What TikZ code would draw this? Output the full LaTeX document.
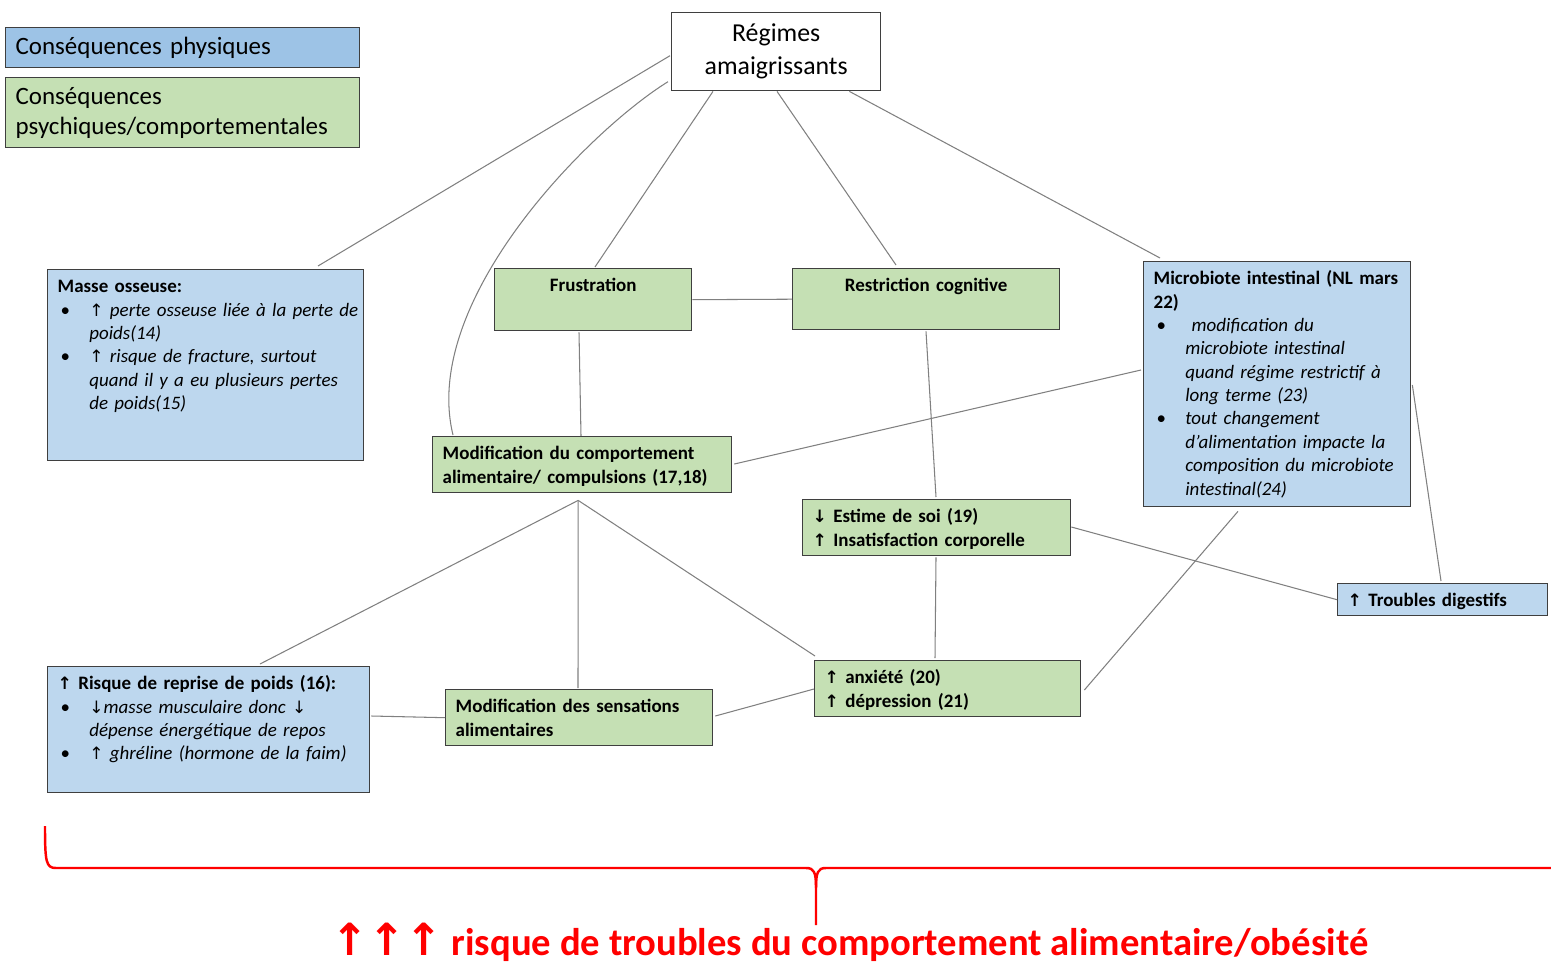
\documentclass[tikz,border=0pt]{standalone}
\usepackage{fontspec}
\setmainfont{Carlito}
\newfontfamily\flechefont[Scale=0.9]{DejaVu Sans}
\usepackage{tikz}
\usepackage{xcolor}
\definecolor{bleulegende}{HTML}{9DC3E6}
\definecolor{bleuclair}{HTML}{BDD7EE}
\definecolor{vertclair}{HTML}{C5E0B4}
\definecolor{bord}{HTML}{3F3F3F}
\definecolor{gris}{HTML}{808080}
\newcommand{\hausse}{{\flechefont ↑}}
\newcommand{\baisse}{{\flechefont ↓}}
\newcommand{\petit}{\fontsize{10.8}{13.3}\selectfont}
\newcommand{\grand}{\fontsize{14.2}{17}\selectfont}
\newcommand{\puce}[1]{\par\rightskip=-8pt plus 1fil\hangindent=18pt\hangafter=1\noindent\makebox[18pt][l]{\hspace{1.7pt}\textbullet}#1\par}

\begin{document}
\begin{tikzpicture}[
x=0.02cm, y=-0.02cm,
boite/.style={draw=bord, line width=0.8pt, anchor=north west, align=left,
  inner xsep=0.2cm, inner ysep=0.16cm, text height=0.3cm, font=\petit},
bleu/.style={boite, fill=bleuclair},
vert/.style={boite, fill=vertclair},
legende/.style={draw=bord, line width=0.8pt, anchor=north west, align=left,
  inner xsep=0.2cm, inner ysep=0.05cm, text width=6.68cm, font=\grand},
lien/.style={draw=gris, line width=0.6pt},
accolade/.style={draw=red, line width=1.4pt}
]
\useasboundingbox (0,0) rectangle (1551,963);

% Legende
\node[legende, fill=bleulegende, minimum height=0.8cm] (physiques) at (5,27) {Conséquences physiques};
\node[legende, fill=vertclair, minimum height=1.4cm] (psychiques) at (5,77) {Conséquences\\psychiques/comportementales};

% Boites
\node[draw=bord, line width=0.8pt, fill=white, anchor=north west, align=center, inner xsep=0.2cm,
  text width=3.78cm, minimum height=1.56cm, font=\fontsize{14.7}{18.7}\selectfont] (regimes) at (671,12) {Régimes\\amaigrissants};

\node[bleu, text width=5.92cm, text depth=3.2cm] (masse) at (47,269) {%
\textbf{Masse osseuse:}
\puce{\hausse\ \textit{perte osseuse liée à la perte de\newline poids(14)}}
\puce{\hausse\ \textit{risque de fracture, surtout\newline quand il y a eu plusieurs pertes\newline de poids(15)}}};

\node[vert, align=center, text width=3.54cm, text depth=0.62cm] (frustration) at (494,268) {\textbf{Frustration}};
\node[vert, align=center, text width=4.94cm, text depth=0.6cm] (restriction) at (792,268) {\textbf{Restriction cognitive}};

\node[bleu, text width=4.94cm, text depth=4.28cm] (microbiote) at (1143,261) {%
\textbf{Microbiote intestinal (NL mars\\22)}
\puce{\textit{\ modification du\newline microbiote intestinal\newline quand régime restrictif à\newline long terme (23)}}
\puce{\textit{tout changement\newline d'alimentation impacte la\newline composition du microbiote\newline intestinal(24)}}};

\node[vert, text width=5.58cm, text depth=0.5cm] (modcomp) at (432,436) {\textbf{Modification du comportement\\alimentaire/ compulsions (17,18)}};
\node[vert, text width=4.96cm, text depth=0.5cm] (estime) at (802,499) {\textbf{\baisse\ Estime de soi (19)\\\hausse\ Insatisfaction corporelle}};
\node[bleu, text width=3.8cm, text depth=0.02cm] (troubles) at (1337,583) {\textbf{\hausse\ Troubles digestifs}};

\node[bleu, text width=6.04cm, text depth=1.9cm] (risque) at (47,666) {%
\textbf{\hausse\ Risque de reprise de poids (16):}
\puce{\baisse\textit{masse musculaire donc} \baisse\newline\textit{dépense énergétique de repos}}
\puce{\hausse\ \textit{ghréline (hormone de la faim)}}};

\node[vert, text width=4.94cm, text depth=0.5cm] (sensations) at (445,689) {\textbf{Modification des sensations\\alimentaires}};
\node[vert, text width=4.92cm, text depth=0.5cm] (anxiete) at (814,660) {\textbf{\hausse\ anxiété (20)\\\hausse\ dépression (21)}};

% Liens
\draw[lien] ([shift={(-1,4)}]regimes.west) -- ([shift={(271,-3)}]masse.north west);
\draw[lien] ([shift={(-3,30)}]regimes.west) .. controls (590,130) and (420,300) .. ([shift={(21,-1)}]modcomp.north west);
\draw[lien] ([shift={(42,0)}]regimes.south west) -- ([shift={(101,-1)}]frustration.north west);
\draw[lien] ([shift={(106,0)}]regimes.south west) -- ([shift={(104,-3)}]restriction.north west);
\draw[lien] ([shift={(-32,0)}]regimes.south east) -- ([shift={(17,-3)}]microbiote.north west);
\draw[lien] (frustration.east) -- (restriction.west);
\draw[lien] ([shift={(85,1)}]frustration.south west) -- ([shift={(149,0)}]modcomp.north west);
\draw[lien] ([shift={(134,1)}]restriction.south west) -- ([shift={(134,-2)}]estime.north west);
\draw[lien] ([shift={(-2,109)}]microbiote.north west) -- ([shift={(2,28)}]modcomp.north east);
\draw[lien] ([shift={(1,124)}]microbiote.north east) -- ([shift={(104,-2)}]troubles.north west);
\draw[lien] ([shift={(0,28)}]estime.north east) -- (troubles.west);
\draw[lien] ([shift={(95,4)}]microbiote.south west) -- ([shift={(3,30)}]anxiete.north east);
\draw[lien] ([shift={(134,1)}]estime.south west) -- ([shift={(121,-2)}]anxiete.north west);
\coordinate (carrefour) at ([shift={(-4,7)}]modcomp.south);
\draw[lien] (carrefour) -- ([shift={(213,-2)}]risque.north west);
\draw[lien] (carrefour) -- ([shift={(133,-1)}]sensations.north west);
\draw[lien] (carrefour) -- ([shift={(1,-4)}]anxiete.north west);
\draw[lien] ([shift={(1,50)}]risque.north east) -- (sensations.west);
\draw[lien] ([shift={(2,27)}]sensations.north east) -- ([shift={(0,29)}]anxiete.north west);

% Accolade et conclusion
\draw[accolade] (45,826) .. controls (45,862) and (46,868) .. (56,868) -- (806,868)
  .. controls (814,868) and (816,872) .. (816,888) -- (816,925);
\draw[accolade] (816,888) .. controls (816,872) and (818,868) .. (826,868) -- (1551,868);
\node[anchor=base, text=red, font=\bfseries\fontsize{22}{26}\selectfont] (conclusion) at (850,955)
  {{\flechefont\fontsize{28}{28}\selectfont ↑↑↑}\ risque de troubles du comportement alimentaire/obésité};
\end{tikzpicture}
\end{document}
